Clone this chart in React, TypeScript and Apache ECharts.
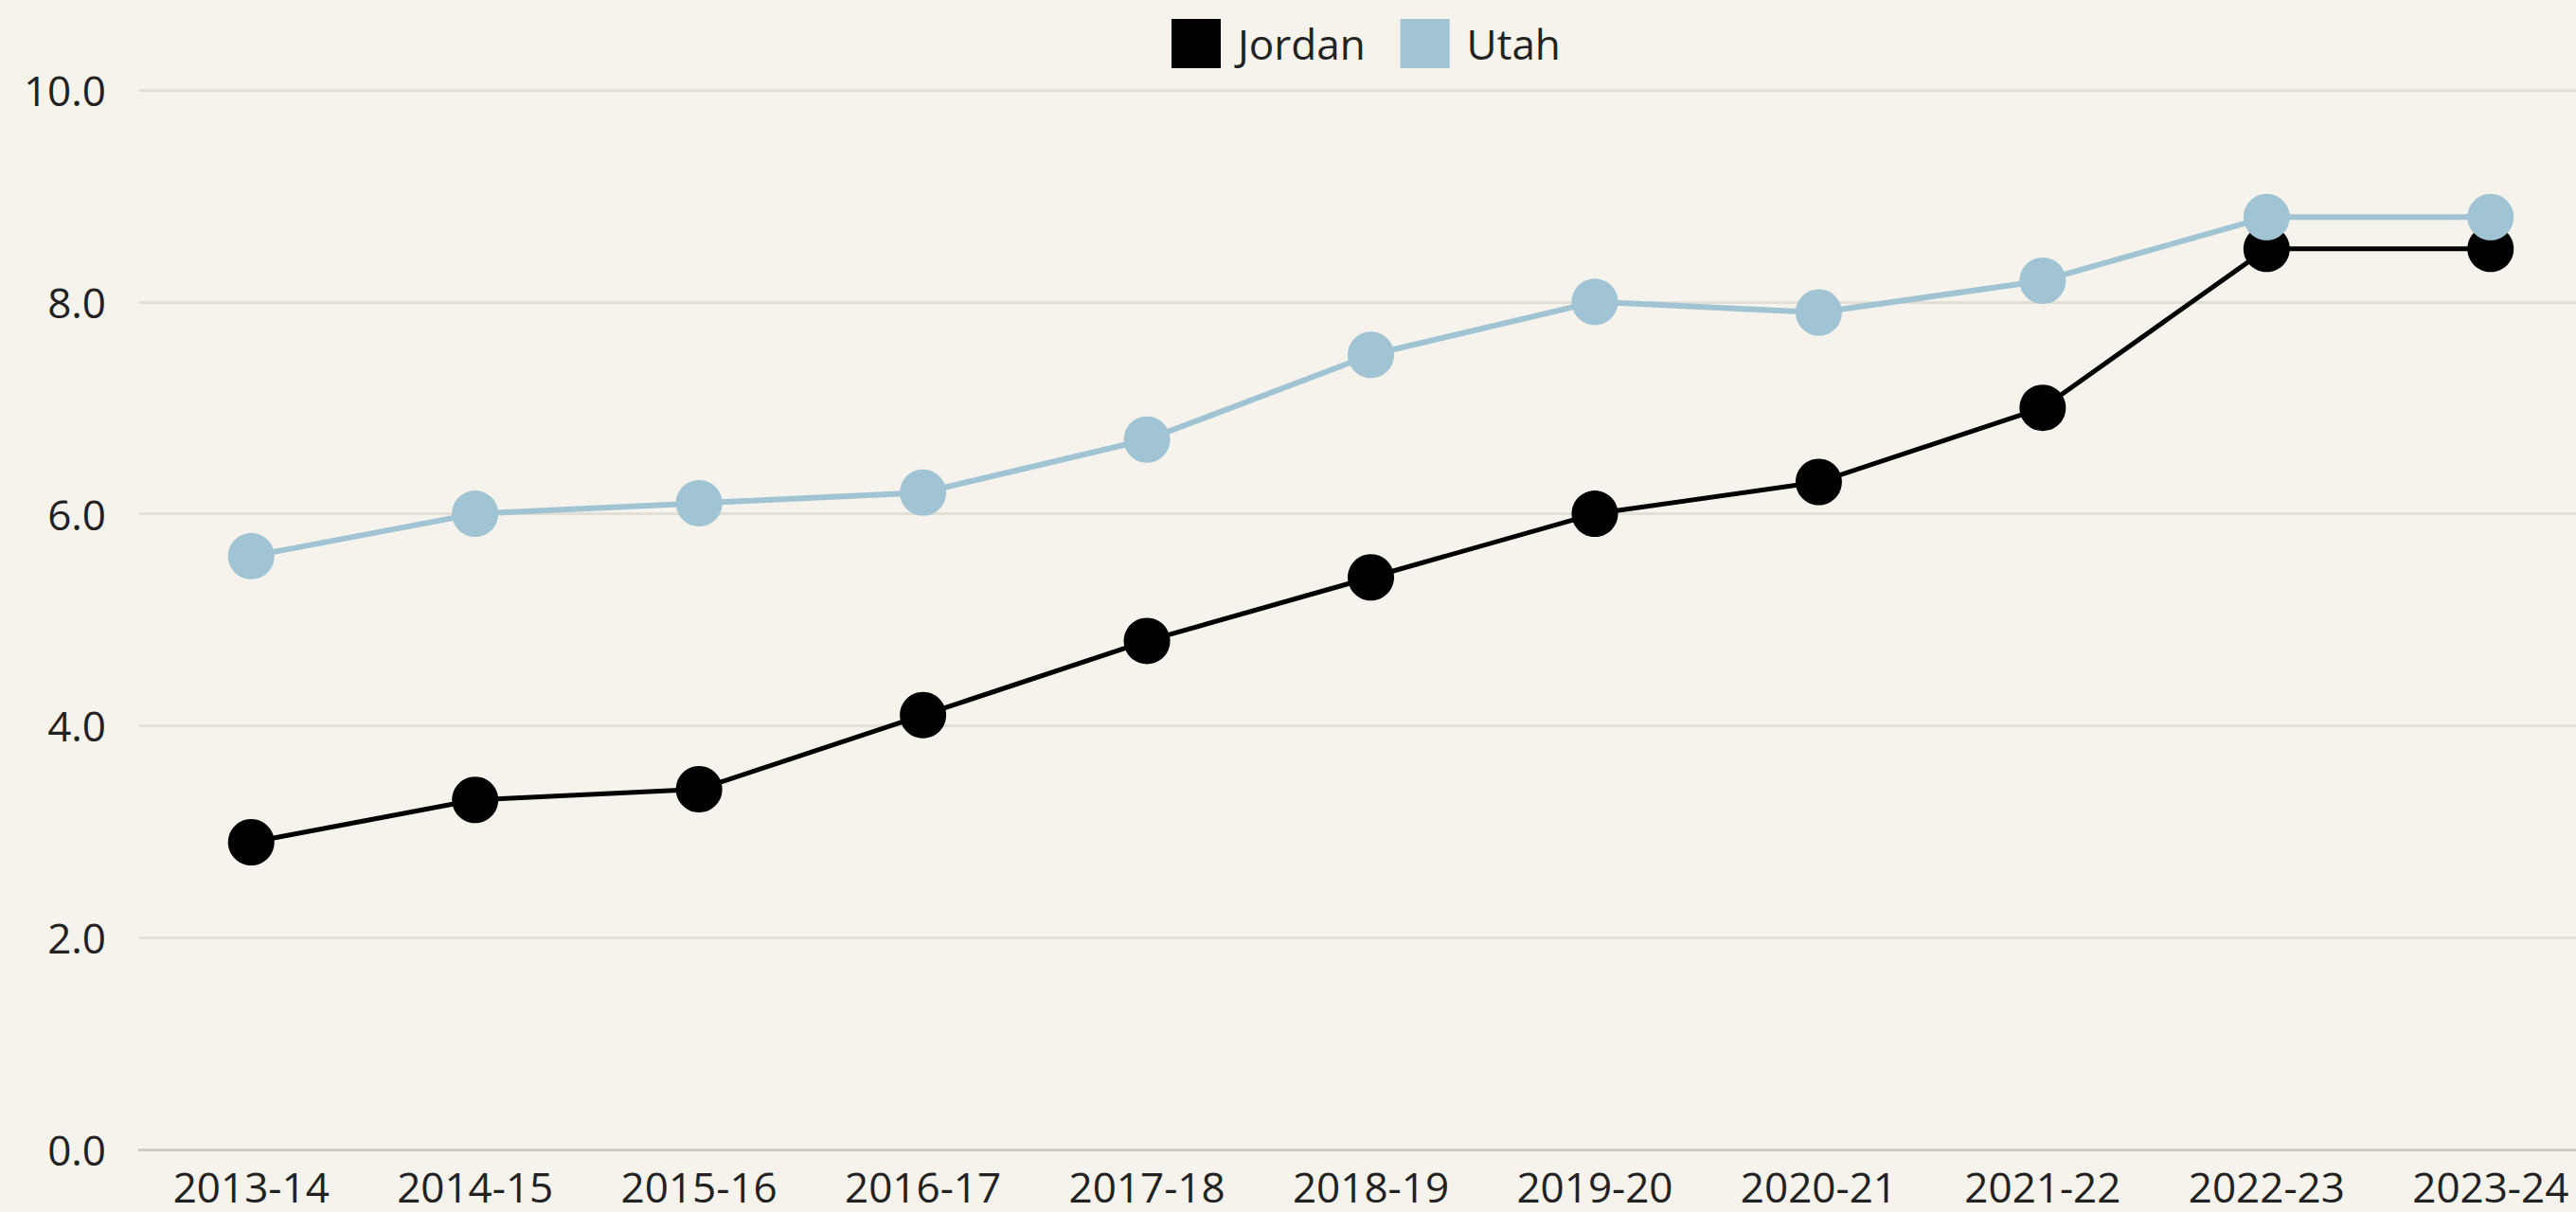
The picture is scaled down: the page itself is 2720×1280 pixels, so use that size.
import React, { useEffect, useRef } from "react";
import * as echarts from "echarts";

const categories = ["2013-14", "2014-15", "2015-16", "2016-17", "2017-18", "2018-19", "2019-20", "2020-21", "2021-22", "2022-23", "2023-24"];
const jordanValues = [2.9, 3.3, 3.4, 4.1, 4.8, 5.4, 6.0, 6.3, 7.0, 8.5, 8.5];
const utahValues = [5.6, 6.0, 6.1, 6.2, 6.7, 7.5, 8.0, 7.9, 8.2, 8.8, 8.8];
const yTicks = { min: 0, max: 10, interval: 2 };

const FONT = "'Open Sans', 'Noto Sans', sans-serif";
const BG = "#f5f3ec";
const TEXT = "#222222";
const UTAH = "#a0c4d3";

export default function App() {
  const ref = useRef<HTMLDivElement>(null);
  useEffect(() => {
    document.body.style.margin = "0";
    document.body.style.overflow = "hidden";
    const chart = echarts.init(ref.current!, null, { renderer: "svg" });
    chart.setOption({
      animation: false,
      backgroundColor: BG,
      textStyle: { fontFamily: FONT },
      legend: {
        top: 15,
        left: 1232,
        itemWidth: 52,
        itemHeight: 52,
        itemGap: 37,
        icon: "rect",
        formatter: "{a|{name}}",
        textStyle: {
          fontSize: 44,
          color: TEXT,
          fontFamily: FONT,
          rich: { a: { fontSize: 44, color: TEXT, fontFamily: FONT, padding: [0, 0, 0, 13] } },
        },
        data: ["Jordan", "Utah"],
      },
      grid: { left: 147, right: 0, top: 95, bottom: 66, containLabel: false },
      xAxis: {
        type: "category",
        data: categories,
        boundaryGap: true,
        axisLine: { show: true, lineStyle: { color: "#cfccc5", width: 3 } },
        axisTick: { show: false },
        axisLabel: { fontSize: 44, lineHeight: 44, color: TEXT, margin: 17, fontFamily: FONT },
        splitLine: { show: false },
      },
      yAxis: {
        type: "value",
        min: yTicks.min,
        max: yTicks.max,
        interval: yTicks.interval,
        axisLine: { show: false },
        axisTick: { show: false },
        axisLabel: {
          fontSize: 44,
          color: TEXT,
          margin: 35,
          fontFamily: FONT,
          formatter: (v: number) => v.toFixed(1),
        },
        splitLine: { show: true, lineStyle: { color: "#e2dfd7", width: 3 } },
      },
      series: [
        {
          name: "Jordan",
          type: "line",
          data: jordanValues,
          symbol: "circle",
          symbolSize: 49,
          lineStyle: { color: "#000000", width: 5 },
          itemStyle: { color: "#000000" },
          z: 2,
        },
        {
          name: "Utah",
          type: "line",
          data: utahValues,
          symbol: "circle",
          symbolSize: 49,
          lineStyle: { color: UTAH, width: 6 },
          itemStyle: { color: UTAH },
          z: 3,
        },
      ],
    });
    return () => chart.dispose();
  }, []);
  return (
    <div style={{ width: 2720, height: 1280, overflow: "hidden", background: BG }}>
      <div ref={ref} style={{ width: 2748, height: 1280, background: BG }} />
    </div>
  );
}
